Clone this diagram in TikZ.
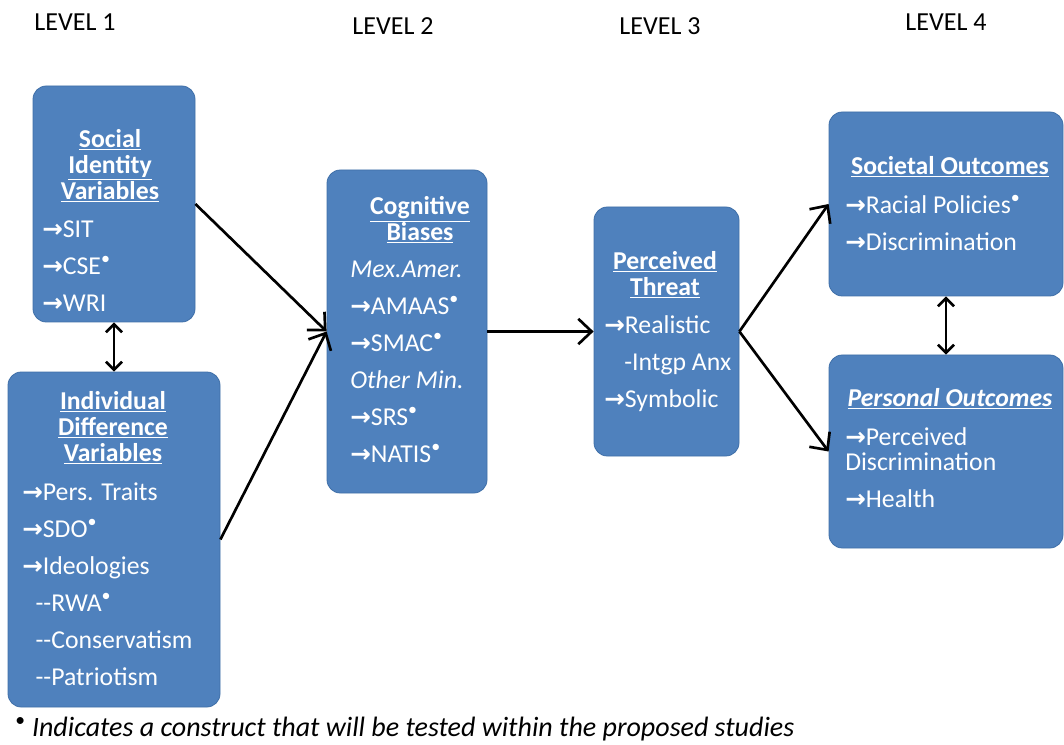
\documentclass[tikz,border=0pt]{standalone}
\usepackage{fontspec}
\setmainfont{Carlito}
\newfontfamily\symfont{DejaVu Sans}
\usepackage{xcolor}
\usetikzlibrary{arrows.meta,positioning,fit}
\definecolor{panelblue}{HTML}{4F81BD}
\definecolor{paneledge}{HTML}{3F6FA8}
\newcommand{\ra}{{\symfont\bfseries\fontsize{18.5}{18}\selectfont →}}
\newcommand{\tested}{\textsuperscript{\textbullet}}
\tikzset{
  panel/.style={draw=paneledge,fill=panelblue,rounded corners=3.5mm,line width=0.6pt,inner sep=0pt},
  head/.style={text=white,align=center,inner sep=0pt,font=\fontsize{19.3}{19.5}\selectfont\bfseries},
  items/.style={text=white,align=left,inner sep=0pt,anchor=north west,font=\fontsize{19.3}{27.75}\selectfont},
  level/.style={inner sep=0pt,font=\fontsize{19.5}{20}\selectfont},
  arr/.style={-{Straight Barb[length=10pt,width=19pt]},line width=2pt},
  dbl/.style={{Straight Barb[length=6pt,width=12pt]}-{Straight Barb[length=6pt,width=12pt]},line width=2pt}
}

\begin{document}
\begin{tikzpicture}[x=0.75pt,y=-0.75pt]
  \useasboundingbox (0,0) rectangle (1064,745);

  % level headings
  \node[level] (lv1) at (75,22) {LEVEL 1};
  \node[level] (lv2) at (393,26) {LEVEL 2};
  \node[level] (lv3) at (660,26) {LEVEL 3};
  \node[level] (lv4) at (946,22) {LEVEL 4};

  % level 1
  \node[panel,fit={(33,86) (195,322)}] (social) {};
  \node[head] (socialhd) at (110,166) {\underline{Social}\\\underline{Identity}\\\underline{Variables}};
  \node[items] (sociallist) at (42,221) {\ra SIT\\\ra CSE\tested\\\ra WRI};

  \node[panel,fit={(8,372) (220,707)}] (indiv) {};
  \node[head] (indivhd) at (113,428) {\underline{Individual}\\\underline{Difference}\\\underline{Variables}};
  \node[items] (indivlist) at (22,483) {\ra Pers. Traits\\\ra SDO\tested\\\ra Ideologies\\
    \hspace*{10pt}-{}-RWA\tested\\\hspace*{10pt}-{}-Conservatism\\\hspace*{10pt}-{}-Patriotism};

  % level 2
  \node[panel,fit={(327,170) (487,493)}] (cogn) {};
  \node[head] (cognhd) at (420,220) {\underline{Cognitive}\\\underline{Biases}};
  \node[items] (cognlist) at (350,261) {\textit{Mex.Amer.}\\\ra AMAAS\tested\\\ra SMAC\tested\\
    \textit{Other Min.}\\\ra SRS\tested\\\ra NATIS\tested};

  % level 3
  \node[panel,fit={(594,207) (739,456)}] (threat) {};
  \node[head] (threathd) at (665,275) {\underline{Perceived}\\\underline{Threat}};
  \node[items] (threatlist) at (604,315) {\ra Realistic\\\hspace*{15pt}-Intgp Anx\\\ra Symbolic};

  % level 4
  \node[panel,fit={(829,112) (1063,296)}] (societal) {};
  \node[head] (societalhd) at (950,167) {\underline{Societal Outcomes}};
  \node[items] (societallist) at (845,195) {\ra Racial Policies\tested\\\ra Discrimination};

  \node[panel,fit={(829,355) (1063,548)}] (personal) {};
  \node[head] (personalhd) at (950,399) {\underline{\textit{Personal Outcomes}}};
  \node[items] (personallist) at (845,427) {\ra Perceived\\[-9pt]Discrimination\\\ra Health};

  % connectors
  \draw[arr] (social.east) -- (cogn.west);
  \draw[arr] (indiv.east) -- (cogn.west);
  \draw[arr] (cogn.east) -- (threat.west);
  \draw[arr] (threat.east) -- (societal.west);
  \draw[arr] (threat.east) -- (personal.west);
  \draw[dbl] (social.south) -- (indiv.north);
  \draw[dbl] (societal.south) -- (personal.north);

  % note
  \node[anchor=west,inner sep=0pt,font=\fontsize{21}{22}\selectfont] (note) at (15,729)
    {\tested\ \textit{Indicates a construct that will be tested within the proposed studies}};
\end{tikzpicture}
\end{document}
